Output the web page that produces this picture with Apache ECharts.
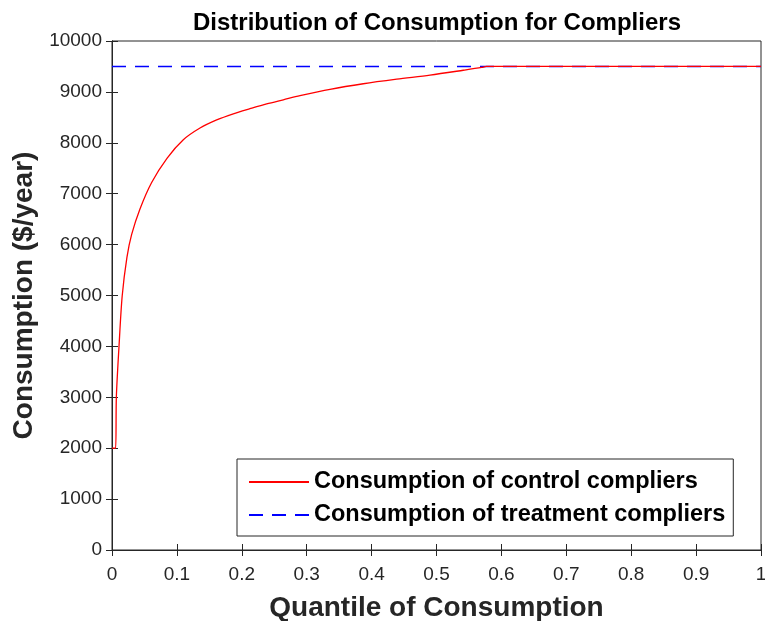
<!DOCTYPE html>
<html>
<head>
<meta charset="utf-8">
<script src="https://cdn.jsdelivr.net/npm/echarts@6/dist/echarts.min.js"></script>
<style>html,body{margin:0;padding:0;background:#fff}#c{width:765px;height:621px}</style>
</head>
<body>
<div id="c"></div>
<script>
const controlX = [0, 0.0055, 0.0067, 0.0108, 0.0157, 0.023, 0.0303, 0.0431, 0.0611, 0.085, 0.1099, 0.1356, 0.1613, 0.1869, 0.2126, 0.2383, 0.264, 0.2897, 0.3359, 0.3872, 0.4387, 0.49, 0.5413, 0.5696, 0.577, 0.6, 0.7, 0.8, 0.9, 1];
const controlY = [2000, 2000, 3000, 4000, 4990, 5750, 6200, 6700, 7220, 7700, 8060, 8290, 8450, 8570, 8670, 8765, 8845, 8925, 9050, 9160, 9250, 9330, 9425, 9480, 9500, 9500, 9500, 9500, 9500, 9500];
const treatX = [0, 1];
const treatY = [9500, 9500];
const seriesNames = ['Consumption of control compliers', 'Consumption of treatment compliers'];
const titleText = 'Distribution of Consumption for Compliers';
const xName = 'Quantile of Consumption';
const yName = 'Consumption ($/year)';

const zip = (a, b) => a.map((v, i) => [v, b[i]]);
const ax = '#262626';
const chart = echarts.init(document.getElementById('c'));
const tickCommon = {inside: true, length: 6, lineStyle: {color: ax, width: 1}};
chart.setOption({
  animation: false,
  title: {text: titleText, left: 432, textAlign: 'center', top: 6, textStyle: {fontFamily: 'Liberation Sans', fontSize: 24, fontWeight: 'bold', color: '#000'}},
  grid: {left: 112, right: 4, top: 41, bottom: 71, show: true, borderColor: ax, borderWidth: 1, backgroundColor: '#fff', outerBoundsMode: 'none', containLabel: false},
  legend: {
    orient: 'vertical', left: 237, top: 459,
    backgroundColor: '#fff', borderColor: ax, borderWidth: 1,
    padding: [11, 8, 9, 11], itemGap: 9, itemWidth: 60, itemHeight: 14,
    itemStyle: {opacity: 0},
    textStyle: {fontFamily: 'Liberation Sans', fontSize: 23.5, fontWeight: 'bold', color: '#000'},
    data: seriesNames
  },
  xAxis: [
    {type: 'value', min: 0, max: 1, interval: 0.1, position: 'bottom',
     name: xName, nameLocation: 'middle', nameGap: 44,
     nameTextStyle: {fontFamily: 'Liberation Sans', fontSize: 28, fontWeight: 'bold', color: ax},
     axisLine: {lineStyle: {color: ax}}, axisTick: tickCommon,
     axisLabel: {fontFamily: 'Liberation Sans', fontSize: 19, color: ax, margin: 15},
     splitLine: {show: false}},
    {type: 'value', min: 0, max: 1, interval: 0.1, position: 'top',
     axisLine: {show: true, lineStyle: {color: ax}}, axisTick: tickCommon,
     axisLabel: {show: false}, splitLine: {show: false}}
  ],
  yAxis: [
    {type: 'value', min: 0, max: 10000, interval: 1000, position: 'left',
     name: yName, nameLocation: 'middle', nameGap: 70,
     nameTextStyle: {fontFamily: 'Liberation Sans', fontSize: 28, fontWeight: 'bold', color: ax},
     axisLine: {show: true, lineStyle: {color: ax}}, axisTick: tickCommon,
     axisLabel: {fontFamily: 'Liberation Sans', fontSize: 19, color: ax, margin: 10, formatter: v => String(v)},
     splitLine: {show: false}},
    {type: 'value', min: 0, max: 10000, interval: 1000, position: 'right',
     axisLine: {show: true, lineStyle: {color: ax}}, axisTick: tickCommon,
     axisLabel: {show: false}, splitLine: {show: false}}
  ],
  series: [
    {name: seriesNames[1], type: 'line', data: zip(treatX, treatY), showSymbol: false, symbol: 'none', z: 2,
     lineStyle: {color: '#0000ff', width: 1.5, type: [14, 9]}, itemStyle: {color: '#0000ff'}},
    {name: seriesNames[0], type: 'line', data: zip(controlX, controlY), showSymbol: false, symbol: 'none', smooth: 0.3, z: 3,
     lineStyle: {color: '#ff0000', width: 1.3}, itemStyle: {color: '#ff0000'}}
  ]
});
</script>
</body>
</html>
